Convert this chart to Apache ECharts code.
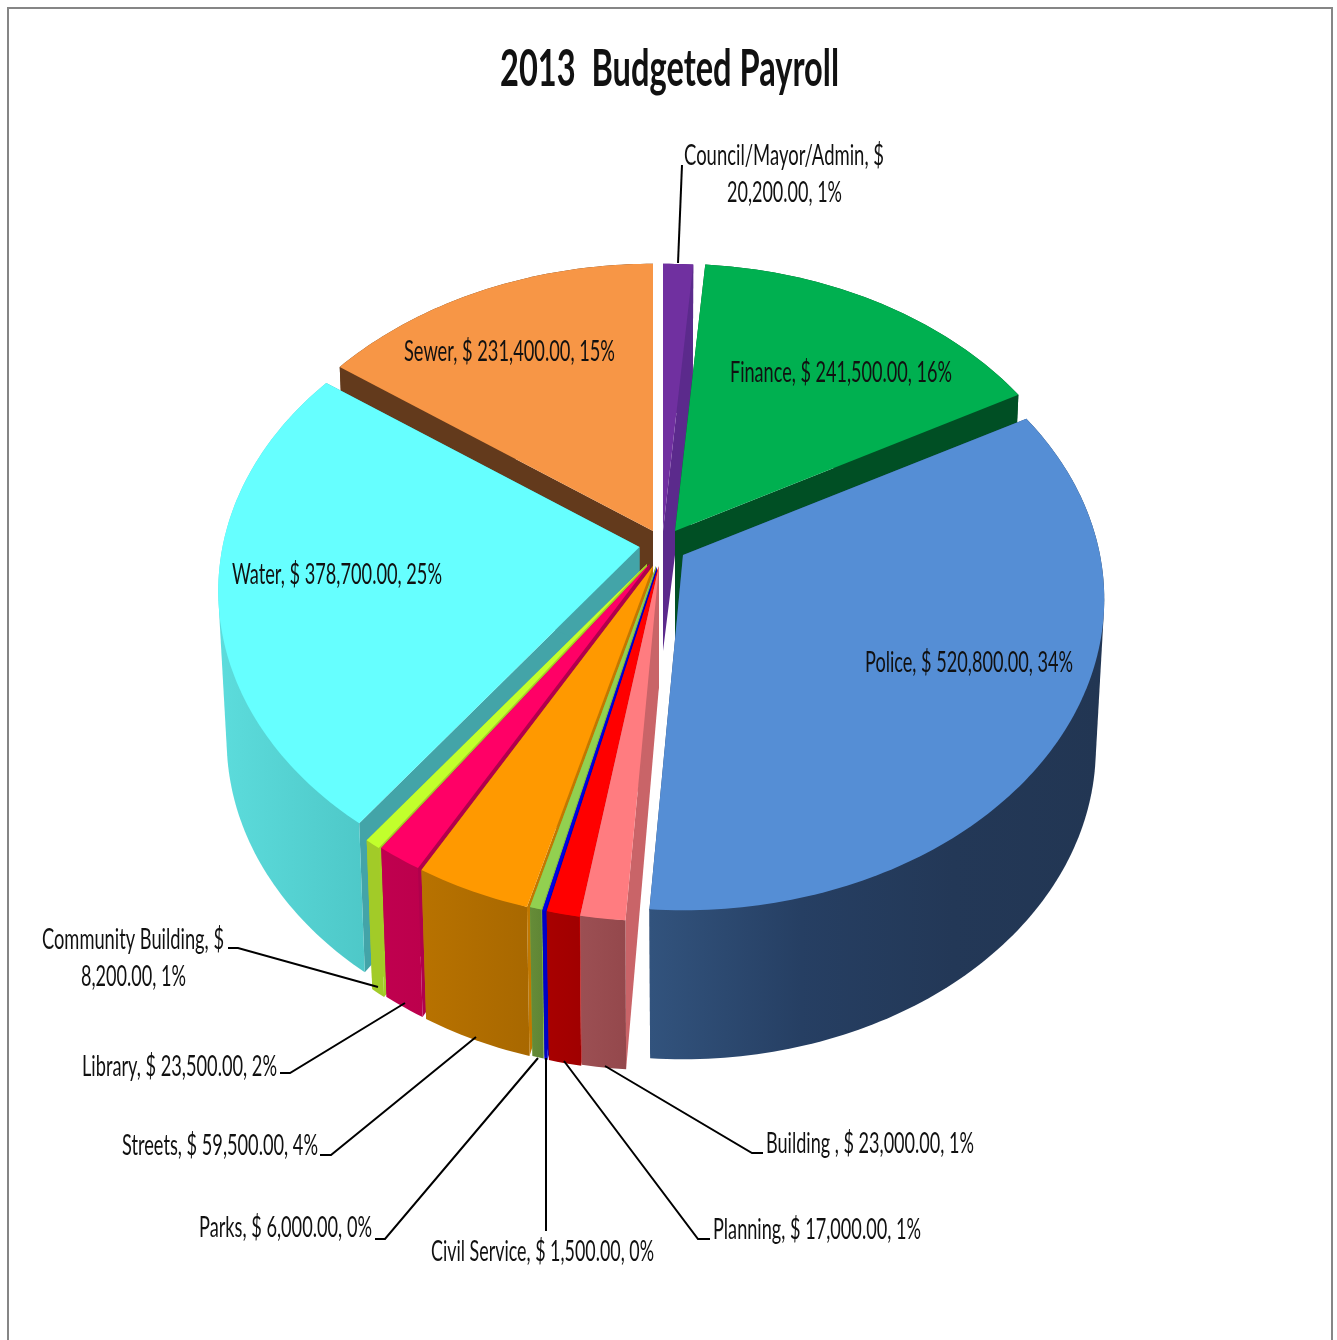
<!DOCTYPE html>
<html>
<head>
<meta charset="utf-8">
<title>2013 Budgeted Payroll</title>
<style>
  html, body { margin: 0; padding: 0; background: #fff; }
  #chart { width: 1337px; height: 1340px; }
</style>
<script src="https://cdn.jsdelivr.net/npm/echarts@6/dist/echarts.min.js"></script>
</head>
<body>
<div id="chart"></div>
<script>
// Payroll departments, clockwise from twelve o'clock.
const departments = ['Council/Mayor/Admin', 'Finance', 'Police', 'Building ', 'Planning', 'Civil Service',
  'Parks', 'Streets', 'Library', 'Community Building', 'Water', 'Sewer'];
const budgeted = [20200, 241500, 520800, 23000, 17000, 1500, 6000, 59500, 23500, 8200, 378700, 231400];
const statedPercent = [1, 16, 34, 1, 1, 0, 0, 4, 2, 1, 25, 15];

// Back-to-front painting order (indexes into departments).
const paintOrder = [11, 0, 1, 10, 9, 8, 7, 6, 5, 4, 3, 2];

// Hub of every exploded slice on the top plane.
const hubs = [[663, 531], [675, 531], [683, 555], [659, 566], [658.5, 567], [657, 567],
  [656, 566], [653, 566], [649.5, 564], [647, 564], [639.5, 547], [653, 531]];

// Fill for top face, cut walls and rim.
const faces = [
  { top: '#7030a0', wall: '#5b2a8c', rim: ['#5b2a8c', '#5b2a8c'] },
  { top: '#00b050', wall: '#004f24', rim: ['#004f24', '#004f24'] },
  { top: '#558ed5', wall: '#2a4670', rim: ['#32537d', '#263f63', '#233857', '#223653'] },
  { top: '#ff7c80', wall: '#c96468', rim: ['#9c4f53', '#94484c'] },
  { top: '#ff0000', wall: '#e00000', rim: ['#a80000', '#a00000'] },
  { top: '#0000e6', wall: '#0000c0', rim: ['#0000c8', '#0000c8'] },
  { top: '#92d050', wall: '#7fb545', rim: ['#668c38', '#5f8534'] },
  { top: '#ff9900', wall: '#c27800', rim: ['#b87200', '#a86800'] },
  { top: '#ff0066', wall: '#b0004c', rim: ['#c0004f', '#bc004c'] },
  { top: '#c2ff2c', wall: '#a4cc28', rim: ['#a2cb28', '#a2cb28'] },
  { top: '#66ffff', wall: '#43a4a8', rim: ['#5cdcdc', '#4ec8c8'] },
  { top: '#f79646', wall: '#633a1c', rim: ['#633a1c', '#633a1c'] }
];

// Label lines: the line breaks that the two long labels carry.
const wrappedAfter = { 0: 'Council/Mayor/Admin, $', 9: 'Community Building, $' };

// Horizontal extent and centre height of each label line.
const labelBoxes = [
  [[684, 884, 156], [727, 842, 193]],
  [[730, 952, 373]],
  [[865, 1073, 663]],
  [[766, 974, 1144]],
  [[713, 921, 1230]],
  [[431, 654, 1252]],
  [[199, 372, 1228]],
  [[122, 318, 1146]],
  [[82, 277, 1067]],
  [[42, 224, 940], [81, 186, 977]],
  [[232, 442, 575]],
  [[404, 615, 352]]
];

// Callout polylines for the labels that sit outside the pie.
const leaders = [
  [[682, 165], [678, 263]],
  [[763, 1153], [752, 1153], [605, 1066]],
  [[710, 1239], [698, 1239], [564, 1061]],
  [[546, 1231], [546, 1058]],
  [[375, 1239], [385, 1239], [538, 1058]],
  [[320, 1155], [331, 1155], [476, 1037]],
  [[280, 1073], [290, 1073], [405, 1003]],
  [[228, 948], [238, 948], [378, 987]]
];

// Perspective of the pie disc and of its lower plane.
const DISC = { radiusX: 417, radiusY: 305, foreshorten: 0.1415 };
const LOWER = { scaleX: 0.98, drop: 149, hubDrop: 120 };

const total = budgeted.reduce((a, b) => a + b, 0);
const starts = [];
budgeted.reduce((sum, v, i) => { starts[i] = sum; return sum + v; }, 0);

function discPoint(angle) {
  const u = Math.sin(angle), v = Math.cos(angle);
  const s = 1 / (1 + DISC.foreshorten * v);
  return [DISC.radiusX * u * s, -DISC.radiusY * v * s];
}
const topPlane = (hub, p) => [hub[0] + p[0], hub[1] + p[1]];
const lowPlane = (hub, p) => [hub[0] + p[0] * LOWER.scaleX, hub[1] + p[1] + LOWER.drop];

function arc(a0, a1) {
  const n = Math.max(2, Math.ceil((a1 - a0) / (Math.PI / 180)));
  const pts = [];
  for (let i = 0; i <= n; i++) pts.push(discPoint(a0 + (a1 - a0) * i / n));
  return pts;
}

// Monotone-chain hull: the swept rim of a slice is the hull of its two arcs,
// and the part that falls inside the slice is painted over by the top face.
function convexHull(points) {
  const pts = points.slice().sort((a, b) => a[0] - b[0] || a[1] - b[1]);
  const cross = (o, a, b) => (a[0] - o[0]) * (b[1] - o[1]) - (a[1] - o[1]) * (b[0] - o[0]);
  const chain = list => {
    const out = [];
    list.forEach(p => {
      while (out.length >= 2 && cross(out[out.length - 2], out[out.length - 1], p) <= 0) out.pop();
      out.push(p);
    });
    out.pop();
    return out;
  };
  return chain(pts).concat(chain(pts.slice().reverse()));
}

function drawSlice(params, api) {
  const i = api.value(0);
  const value = api.value(1);
  const a0 = starts[i] / total * Math.PI * 2;
  const a1 = a0 + value / total * Math.PI * 2;
  const hub = hubs[i], face = faces[i];
  const rimPts = arc(a0, a1);
  const first = rimPts[0], last = rimPts[rimPts.length - 1];
  const hubLow = [hub[0], hub[1] + LOWER.hubDrop];
  const wall = p => ({
    type: 'polygon',
    shape: { points: [hub, topPlane(hub, p), lowPlane(hub, p), hubLow] },
    style: { fill: face.wall }
  });
  const rimFill = {
    type: 'linear',
    x: 0, y: 0, x2: 1, y2: 0,
    colorStops: face.rim.map((color, k) => ({ offset: k / (face.rim.length - 1), color }))
  };
  const swept = rimPts.map(p => topPlane(hub, p)).concat(rimPts.map(p => lowPlane(hub, p)));
  return {
    type: 'group',
    children: [
      wall(first),
      wall(last),
      { type: 'polygon', shape: { points: convexHull(swept) }, style: { fill: rimFill } },
      {
        type: 'polygon',
        shape: { points: [hub].concat(rimPts.map(p => topPlane(hub, p))) },
        style: { fill: face.top }
      }
    ]
  };
}

function drawLeader(params, api) {
  return {
    type: 'polyline',
    shape: { points: leaders[api.value(0)] },
    style: { fill: 'none', stroke: '#000', lineWidth: 2 }
  };
}

const money = v => v.toLocaleString('en-US', { minimumFractionDigits: 2, maximumFractionDigits: 2 });
const labelLines = i => {
  const full = departments[i] + ', $ ' + money(budgeted[i]) + ', ' + statedPercent[i] + '%';
  const head = wrappedAfter[i];
  return head ? [head, full.slice(head.length + 1)] : [full];
};

const ruler = document.createElement('canvas').getContext('2d');
function fittedText(text, box, size, weight) {
  const font = weight + ' ' + size + 'px Lato';
  ruler.font = font;
  return {
    type: 'text',
    x: box[0],
    y: box[2],
    scaleX: (box[1] - box[0]) / ruler.measureText(text).width,
    style: { x: 0, y: 0, text, font, fill: '#111', align: 'left', verticalAlign: 'middle' }
  };
}

function drawLabel(params, api) {
  const i = api.value(0);
  return {
    type: 'group',
    children: labelLines(i).map((line, k) => fittedText(line, labelBoxes[i][k], 28, 'normal'))
  };
}

const chart = echarts.init(document.getElementById('chart'), null, { renderer: 'canvas' });
chart.setOption({
  animation: false,
  backgroundColor: '#fff',
  graphic: [
    {
      type: 'rect',
      silent: true,
      shape: { x: 8, y: 8, width: 1324, height: 1400 },
      style: { fill: 'none', stroke: '#868686', lineWidth: 2 }
    },
    fittedText('2013  Budgeted Payroll', [500, 839, 69], 52, 'bold')
  ],
  series: [
    {
      type: 'custom',
      coordinateSystem: 'none',
      silent: true,
      z: 2,
      data: paintOrder.map(i => [i, budgeted[i]]),
      renderItem: drawSlice
    },
    {
      type: 'custom',
      coordinateSystem: 'none',
      silent: true,
      z: 3,
      data: leaders.map((c, i) => [i]),
      renderItem: drawLeader
    },
    {
      type: 'custom',
      coordinateSystem: 'none',
      silent: true,
      z: 4,
      data: departments.map((d, i) => [i]),
      renderItem: drawLabel
    }
  ]
});
</script>
</body>
</html>
